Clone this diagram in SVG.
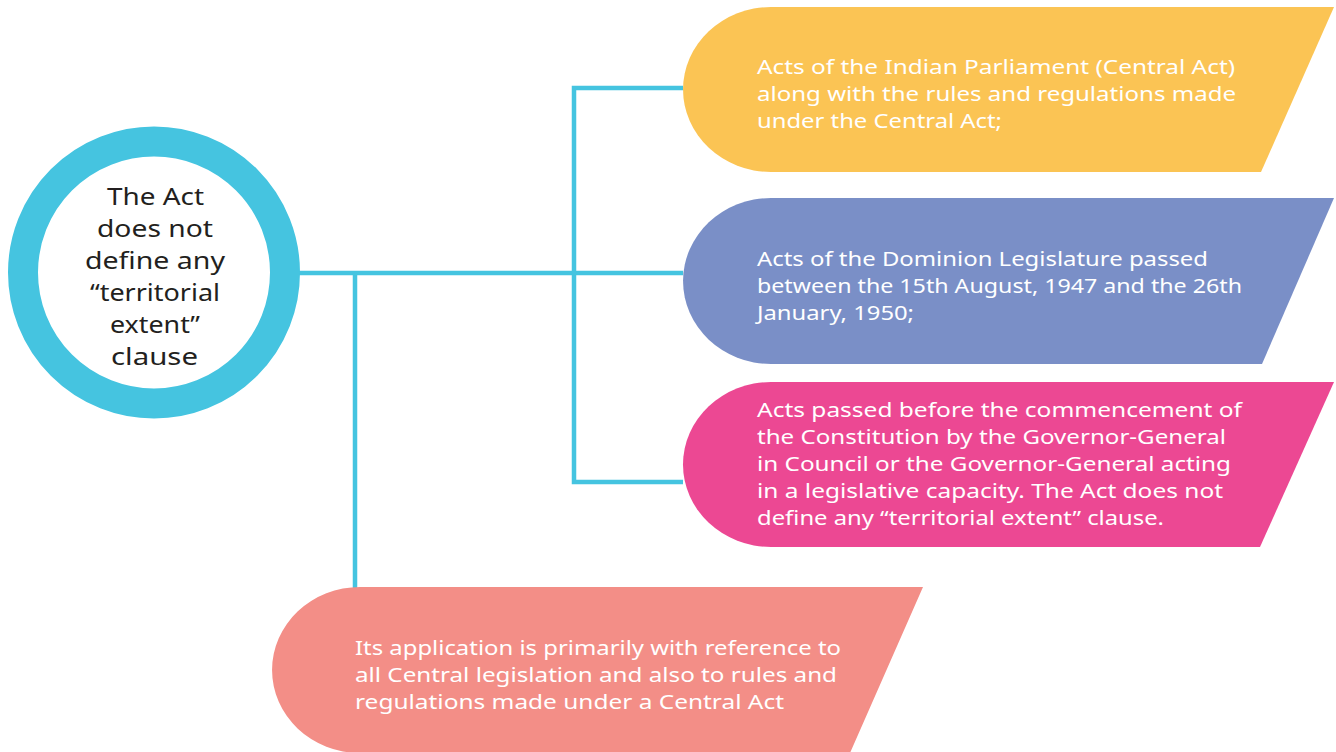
<svg xmlns="http://www.w3.org/2000/svg" width="1336" height="752" viewBox="0 0 1336 752">
  <style>
    .box-text { font-family: "Noto Sans", "Open Sans", sans-serif; font-size: 19.5px; fill: #ffffff; }
    .hub-text { font-family: "Noto Sans", "Open Sans", sans-serif; font-size: 23px; fill: #231f20; text-anchor: middle; }
    .link { fill: none; stroke: #45c4e0; stroke-width: 4.5; }
  </style>
  <rect width="1336" height="752" fill="#ffffff"/>

  <!-- connectors -->
  <g id="connectors">
    <path class="link" d="M298,273 H683"/>
    <path class="link" d="M683,88 H574 V482 H683"/>
    <path class="link" d="M355,273 V588"/>
  </g>

  <!-- central hub -->
  <g id="hub">
    <circle cx="154" cy="272.5" r="131" fill="#ffffff" stroke="#45c4e0" stroke-width="30"/>
    <text class="hub-text" x="155.5" y="205" textLength="97" lengthAdjust="spacingAndGlyphs">The Act</text>
    <text class="hub-text" x="155" y="237" textLength="116" lengthAdjust="spacingAndGlyphs">does not</text>
    <text class="hub-text" x="155" y="269" textLength="140" lengthAdjust="spacingAndGlyphs">define any</text>
    <text class="hub-text" x="155" y="301" textLength="130" lengthAdjust="spacingAndGlyphs">“territorial</text>
    <text class="hub-text" x="155" y="333" textLength="90" lengthAdjust="spacingAndGlyphs">extent”</text>
    <text class="hub-text" x="154.5" y="365" textLength="87" lengthAdjust="spacingAndGlyphs">clause</text>
  </g>

  <!-- central acts -->
  <g id="central-acts">
    <path d="M771,7 H1334 L1261,172 H771 A88,82.5 0 0 1 771,7 Z" fill="#fbc454"/>
    <text class="box-text" x="757" y="74" textLength="478" lengthAdjust="spacingAndGlyphs">Acts of the Indian Parliament (Central Act)</text>
    <text class="box-text" x="757" y="101" textLength="479" lengthAdjust="spacingAndGlyphs">along with the rules and regulations made</text>
    <text class="box-text" x="757" y="128" textLength="245" lengthAdjust="spacingAndGlyphs">under the Central Act;</text>
  </g>

  <!-- dominion acts -->
  <g id="dominion-acts">
    <path d="M771,198 H1334 L1262,364 H771 A88,83 0 0 1 771,198 Z" fill="#7a8fc7"/>
    <text class="box-text" x="757" y="266" textLength="451" lengthAdjust="spacingAndGlyphs">Acts of the Dominion Legislature passed</text>
    <text class="box-text" x="757" y="293" textLength="485" lengthAdjust="spacingAndGlyphs">between the 15th August, 1947 and the 26th</text>
    <text class="box-text" x="757" y="320" textLength="157" lengthAdjust="spacingAndGlyphs">January, 1950;</text>
  </g>

  <!-- pre-constitution acts -->
  <g id="pre-constitution-acts">
    <path d="M771,382 H1334 L1260,547 H771 A88,82.5 0 0 1 771,382 Z" fill="#ec4893"/>
    <text class="box-text" x="757" y="417" textLength="485" lengthAdjust="spacingAndGlyphs">Acts passed before the commencement of</text>
    <text class="box-text" x="757" y="444" textLength="469" lengthAdjust="spacingAndGlyphs">the Constitution by the Governor-General</text>
    <text class="box-text" x="757" y="471" textLength="474" lengthAdjust="spacingAndGlyphs">in Council or the Governor-General acting</text>
    <text class="box-text" x="757" y="498" textLength="466" lengthAdjust="spacingAndGlyphs">in a legislative capacity. The Act does not</text>
    <text class="box-text" x="757" y="525" textLength="407" lengthAdjust="spacingAndGlyphs">define any “territorial extent” clause.</text>
  </g>

  <!-- application -->
  <g id="application">
    <path d="M360,587 H923 L850,753 H360 A88,83 0 0 1 360,587 Z" fill="#f38e87"/>
    <text class="box-text" x="355" y="655" textLength="486" lengthAdjust="spacingAndGlyphs">Its application is primarily with reference to</text>
    <text class="box-text" x="355" y="682" textLength="482" lengthAdjust="spacingAndGlyphs">all Central legislation and also to rules and</text>
    <text class="box-text" x="355" y="709" textLength="429" lengthAdjust="spacingAndGlyphs">regulations made under a Central Act</text>
  </g>
</svg>
